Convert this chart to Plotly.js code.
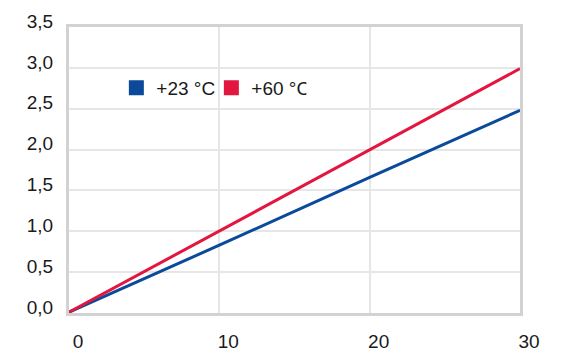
<!DOCTYPE html>
<html>
<head>
<meta charset="utf-8">
<script src="https://cdn.plot.ly/plotly-3.0.1.min.js"></script>
<style>html,body{margin:0;padding:0;background:#fff;}#chart{width:570px;height:358px;}</style>
</head>
<body>
<div id="chart"></div>
<script>
const xValues = [0, 10, 20, 30];
const series23 = [0.01, 0.83, 1.66, 2.48];
const series60 = [0.01, 1.0, 2.0, 2.99];
const seriesNames = ['+23 °C', '+60 °C'];
const xTicks = [0, 10, 20, 30];
const yTicks = [0, 0.5, 1.0, 1.5, 2.0, 2.5, 3.0, 3.5];

const blue = '#0b4a9b';
const red = '#e2163f';
const font = {family: 'Liberation Sans, Arial, sans-serif', size: 19, color: '#1a1a1a'};

const traces = [
  {x: xValues, y: series23, mode: 'lines', line: {color: blue, width: 3}, showlegend: false, legendgroup: 'a', hoverinfo: 'skip'},
  {x: xValues, y: series60, mode: 'lines', line: {color: red, width: 3}, showlegend: false, legendgroup: 'b', hoverinfo: 'skip'},
  {x: [null], y: [null], mode: 'markers', name: seriesNames[0], legendgroup: 'a', marker: {symbol: 'square', size: 15, color: blue}},
  {x: [null], y: [null], mode: 'markers', name: seriesNames[1], legendgroup: 'b', marker: {symbol: 'square', size: 15, color: red}}
];

const layout = {
  width: 570, height: 358,
  margin: {l: 69, r: 50, t: 27, b: 45, pad: 0},
  paper_bgcolor: '#ffffff',
  plot_bgcolor: '#ffffff',
  separators: ',.',
  font: font,
  showlegend: true,
  legend: {
    orientation: 'h', x: 0.105, xanchor: 'left', y: 0.787, yanchor: 'middle',
    bgcolor: 'rgba(0,0,0,0)', font: font, entrywidth: 50, entrywidthmode: 'pixels',
    itemclick: false
  },
  xaxis: {
    range: [0, 30], tickvals: xTicks, ticktext: xTicks.map(String),
    showgrid: true, gridcolor: '#e6e6e6', gridwidth: 2,
    showline: true, mirror: true, linecolor: '#d2d2d2', linewidth: 3,
    zeroline: false, ticks: '', ticklabelstandoff: 9, ticklabelshift: 9,
    tickfont: font, fixedrange: true
  },
  yaxis: {
    range: [0, 3.5], tickvals: yTicks, tickformat: '.1f',
    showgrid: true, gridcolor: '#e6e6e6', gridwidth: 2,
    showline: true, mirror: true, linecolor: '#d2d2d2', linewidth: 3,
    zeroline: false, ticks: '', ticklabelstandoff: 9, ticklabelshift: -6,
    tickfont: font, fixedrange: true
  }
};

Plotly.newPlot('chart', traces, layout, {displayModeBar: false, staticPlot: true});
</script>
</body>
</html>
